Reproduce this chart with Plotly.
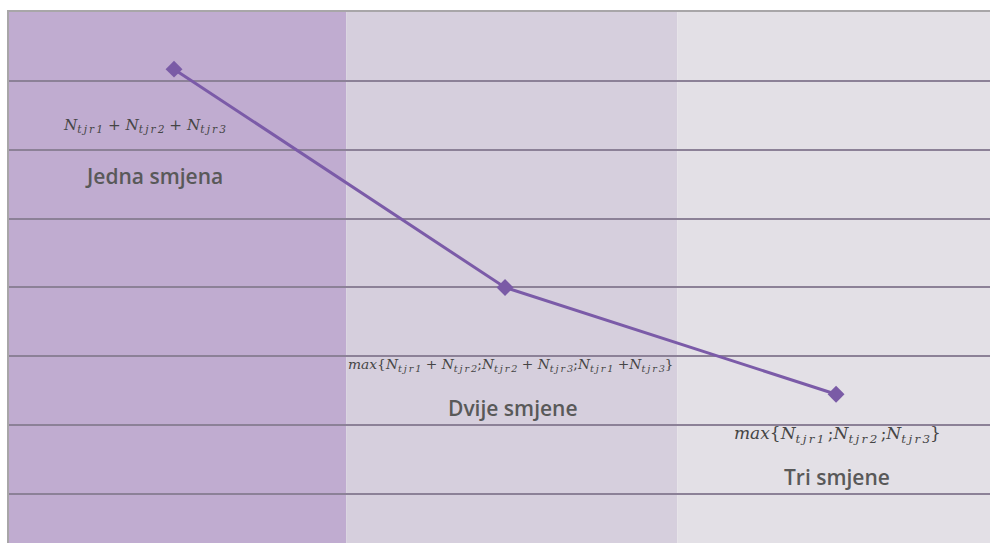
import plotly.graph_objects as go

# categories (x positions 0,1,2) and the plotted values
categories = ["Jedna smjena", "Dvije smjene", "Tri smjene"]
x_vals = [0, 1, 2]
y_vals = [7.17, 4.0, 2.45]

def N(i):
    # math-italic style subscript, letters spaced a little
    return "<i>N</i><sub><i>t\u2009j\u2009r\u2009" + str(i) + "</i></sub>"

formulas = [
    N(1) + " + " + N(2) + " + " + N(3),
    "<i>max</i>{" + N(1) + " + " + N(2) + ";" + N(2) + " + " + N(3) + ";" + N(1) + " +" + N(3) + "}",
    "<i>max</i>{" + N(1) + "\u2009;" + N(2) + "\u2009;" + N(3) + "}",
]
formula_size = [15.2, 13.8, 17]
formula_x = [-0.088, 1.018, 2.003]
formula_y = [6.35, 2.87, 1.86]
label_x = [-0.06, 1.024, 2.003]
label_y = [5.62, 2.25, 1.25]

# band edges between the categories
band_edges = [-0.5, 0.52, 1.52, 2.52]
band_colors = ["#C0ACD0", "#D6CFDD", "#E3E0E6"]

fig = go.Figure()

for i, c in enumerate(band_colors):
    fig.add_shape(type="rect", xref="x", yref="paper", x0=band_edges[i], x1=band_edges[i + 1],
                  y0=0, y1=1, fillcolor=c, line_width=0, layer="below")

fig.add_trace(go.Scatter(
    x=x_vals, y=y_vals, mode="lines+markers",
    line=dict(color="#7B5BA8", width=3),
    marker=dict(symbol="diamond", size=13, color="#7A5BA6"),
    showlegend=False, hoverinfo="skip"
))

for i in range(3):
    fig.add_annotation(x=formula_x[i], y=formula_y[i], text=formulas[i], showarrow=False,
                       font=dict(family="DejaVu Serif", size=formula_size[i], color="#454545"))
    fig.add_annotation(x=label_x[i], y=label_y[i], text=categories[i], showarrow=False,
                       font=dict(family="Open Sans", size=21, color="#595959", weight=600))

fig.update_xaxes(range=[-0.4985, 2.465], showgrid=False, zeroline=False, showticklabels=False,
                 side="top", showline=True, linecolor="#A8A6A8", linewidth=2, ticks="")
fig.update_yaxes(range=[0.29, 8], dtick=1, showgrid=True, gridcolor="#8C8197", gridwidth=2,
                 zeroline=False, showticklabels=False, showline=True,
                 linecolor="#A8A6A8", linewidth=2, ticks="")

fig.update_layout(
    width=990, height=543,
    margin=dict(l=9, r=0, t=12, b=0, pad=0),
    paper_bgcolor="white", plot_bgcolor="rgba(0,0,0,0)",
)

# drop the page's default body margin so the 990x543 figure fits the window
fig.write_html("out.html", config={"displayModeBar": False},
               post_script="document.body.style.margin='0';document.body.style.overflow='hidden';")
